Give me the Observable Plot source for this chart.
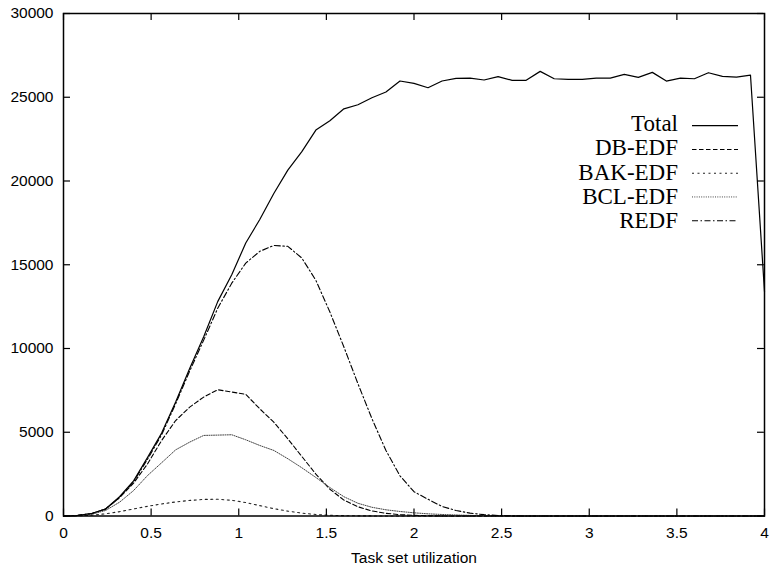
<!DOCTYPE html>
<html><head><meta charset="utf-8">
<script src="https://cdn.jsdelivr.net/npm/d3@7"></script>
<script src="https://cdn.jsdelivr.net/npm/@observablehq/plot@0.6"></script>
<style>body{margin:0;background:#fff} svg{display:block}</style>
</head><body><div id="chart"></div>
<script>
const utilization = [0,0.08,0.16,0.24,0.32,0.40,0.48,0.56,0.64,0.72,0.80,0.88,0.96,1.04,1.12,1.20,1.28,1.36,1.44,1.52,1.60,1.68,1.76,1.84,1.92,2.00,2.08,2.16,2.24,2.32,2.40,2.48,2.56,2.64,2.72,2.80,2.88,2.96,3.04,3.12,3.20,3.28,3.36,3.44,3.52,3.60,3.68,3.76,3.84,3.92,4.00];
const total = [0,40,150,420,1150,2100,3500,4950,6800,8800,10700,12800,14400,16300,17700,19250,20650,21750,23040,23600,24310,24550,24970,25310,25970,25830,25570,25970,26130,26145,26030,26230,26010,26010,26545,26105,26065,26065,26145,26145,26365,26185,26485,25965,26145,26105,26465,26245,26205,26325,13400];
const dbEdf = [0,30,140,420,1100,1960,3120,4510,5700,6500,7100,7540,7400,7260,6400,5600,4610,3555,2500,1600,950,550,300,160,80,40,15,5,0,0,0,0,0,0,0,0,0,0,0,0,0,0,0,0,0,0,0,0,0,0,0];
const bakEdf = [0,10,50,130,260,420,580,720,840,930,990,1000,940,800,620,440,290,170,90,45,20,10,5,0,0,0,0,0,0,0,0,0,0,0,0,0,0,0,0,0,0,0,0,0,0,0,0,0,0,0,0];
const bclEdf = [0,20,100,330,825,1520,2420,3180,3950,4410,4810,4830,4850,4550,4210,3915,3420,2880,2300,1700,1150,760,520,370,270,190,130,90,60,35,20,10,5,0,0,0,0,0,0,0,0,0,0,0,0,0,0,0,0,0,0];
const redf = [0,30,140,410,1100,2050,3400,4850,6700,8650,10500,12400,13900,15100,15800,16150,16100,15400,14070,12180,10090,7900,5810,3910,2400,1450,1000,570,330,170,80,30,10,0,0,0,0,0,0,0,0,0,0,0,0,0,0,0,0,0,0];
const seriesNames = ["Total","DB-EDF","BAK-EDF","BCL-EDF","REDF"];
const xTicks = [0,0.5,1,1.5,2,2.5,3,3.5,4];
const yTicks = [0,5000,10000,15000,20000,25000,30000];
const xLabel = "Task set utilization";

const seriesValues = [total, dbEdf, bakEdf, bclEdf, redf];
const seriesStyle = [
  {stroke: "#000", width: 1.2, dash: null},
  {stroke: "#000", width: 1.1, dash: "4.5,2.5"},
  {stroke: "#222", width: 1.1, dash: "2,3.5"},
  {stroke: "#444", width: 1.0, dash: "1,1.3"},
  {stroke: "#000", width: 1.1, dash: "6,2.5,1.5,2.5"}
];
const rows = seriesNames.flatMap((name, k) => utilization.map((u, i) => ({series: name, u, v: seriesValues[k][i]})));

const yMin = yTicks[0], yMax = yTicks[yTicks.length - 1];
const xMin = xTicks[0], xMax = xTicks[xTicks.length - 1];

const lineMarks = seriesNames.map((name, k) =>
  Plot.line(rows.filter(r => r.series === name), {
    x: "u", y: "v", stroke: seriesStyle[k].stroke, strokeWidth: seriesStyle[k].width,
    strokeDasharray: seriesStyle[k].dash, curve: "linear"
  })
);

const chart = Plot.plot({
  width: 770, height: 568,
  marginLeft: 63, marginRight: 6, marginTop: 13, marginBottom: 52.5,
  style: {fontFamily: "'Liberation Sans', Arial, sans-serif", fontSize: "15.5px", color: "#000", background: "#fff"},
  x: {domain: [xMin, xMax]},
  y: {domain: [yMin, yMax]},
  marks: [
    ...lineMarks,
    Plot.ruleX(xTicks, {x: d => d, y1: yMin, y2: yMin, insetTop: -7, stroke: "#000", strokeWidth: 1.2}),
    Plot.ruleX(xTicks, {x: d => d, y1: yMax, y2: yMax, insetBottom: -7, stroke: "#000", strokeWidth: 1.2}),
    Plot.ruleY(yTicks, {y: d => d, x1: xMin, x2: xMin, insetRight: -7, stroke: "#000", strokeWidth: 1.2}),
    Plot.ruleY(yTicks, {y: d => d, x1: xMax, x2: xMax, insetLeft: -7, stroke: "#000", strokeWidth: 1.2}),
    Plot.frame({stroke: "#000", strokeWidth: 1.5}),
    Plot.axisX(xTicks, {anchor: "bottom", tickSize: 0, tickPadding: 11, label: null, tickFormat: d => String(d)}),
    Plot.axisY(yTicks, {anchor: "left", tickSize: 0, tickPadding: 10, label: null, tickFormat: d3.format("d")}),
    Plot.text([xLabel], {text: d => d, frameAnchor: "bottom", dy: 47, lineAnchor: "bottom", fontSize: 15.5})
  ]
});

// legend (gnuplot-style key inside the plot)
const svg = d3.select(chart);
const key = svg.append("g").attr("class", "key");
seriesNames.forEach((name, k) => {
  key.append("text")
    .attr("x", 678).attr("y", 131 + k * 24.3)
    .attr("text-anchor", "end")
    .attr("font-family", "'Liberation Serif', 'Times New Roman', serif")
    .attr("font-size", 23).attr("fill", "#000")
    .text(name);
  key.append("line")
    .attr("x1", 692).attr("x2", 738)
    .attr("y1", 125.7 + k * 23.75).attr("y2", 125.7 + k * 23.75)
    .attr("stroke", seriesStyle[k].stroke).attr("stroke-width", seriesStyle[k].width)
    .attr("stroke-dasharray", seriesStyle[k].dash);
});

document.getElementById("chart").appendChild(chart);
</script>
</body></html>
